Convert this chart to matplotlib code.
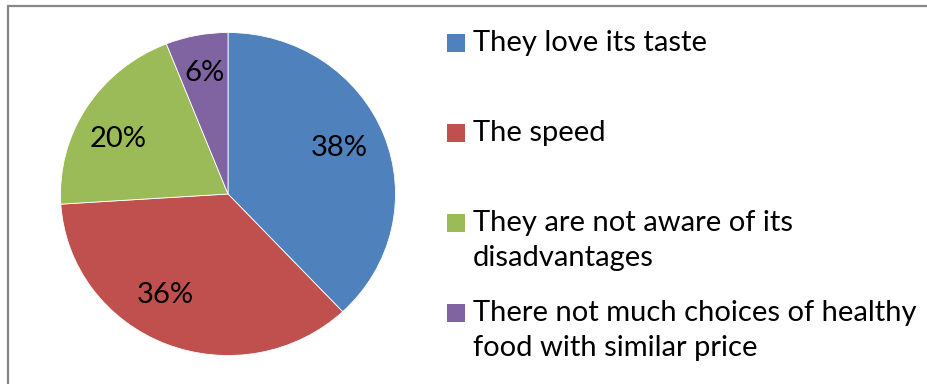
import matplotlib
matplotlib.use("Agg")
import matplotlib.pyplot as plt
from matplotlib.patches import Rectangle
import numpy as np

# Survey answers and their shares (%)
reasons = [
    "They love its taste",
    "The speed",
    "They are not aware of its\ndisadvantages",
    "There not much choices of healthy\nfood with similar price",
]
shares = [38, 36, 20, 6]
colors = ["#4F81BD", "#C0504D", "#9BBB59", "#8064A2"]

# Small angular nudges (degrees) and radial distance for the percentage labels
label_nudge = [1.5, -9.5, 5.0, 0.0]
label_radius = [0.72, 0.73, 0.74, 0.76]

FONT = "Lato"
W, H = 928, 384
fig = plt.figure(figsize=(W / 100, H / 100), dpi=100)
fig.patch.set_facecolor("white")

# Chart frame (right and bottom edges fall outside the canvas)
fig.add_artist(Rectangle((7.5 / W, -0.05), 1.2, 1 - 5.5 / H + 0.05,
                         transform=fig.transFigure, fill=False,
                         edgecolor="#878787", linewidth=1.6))

# Pie axes (plot area is slightly wider than tall)
cx, cy, rx, ry = 228, 194, 167.5, 161.5
ax = fig.add_axes([(cx - rx) / W, (H - cy - ry) / H, 2 * rx / W, 2 * ry / H])
wedges, _ = ax.pie(shares, colors=colors, startangle=90, counterclock=False,
                   radius=1.0, wedgeprops=dict(linewidth=0.6, edgecolor="white"))
ax.set_aspect("auto")
ax.set_xlim(-1, 1)
ax.set_ylim(-1, 1)
ax.axis("off")

total = sum(shares)
start = 90.0
for val, nudge, rad in zip(shares, label_nudge, label_radius):
    sweep = val / total * 360.0
    mid = np.deg2rad(start - sweep / 2 + nudge)
    ax.text(rad * np.cos(mid), rad * np.sin(mid), f"{val}%",
            ha="center", va="center", fontsize=21, family=FONT, color="black")
    start -= sweep

# Legend
box = 18
text_x = 473
row_centers = [43, 133, 223, 313]
for name, col, yc in zip(reasons, colors, row_centers):
    fig.add_artist(Rectangle((447 / W, (H - yc - box / 2) / H), box / W, box / H,
                             transform=fig.transFigure, facecolor=col,
                             edgecolor="none"))
    fig.text(text_x / W, (H - yc + 13) / H, name, ha="left", va="top",
             fontsize=21, family=FONT, color="black", linespacing=1.45)

fig.savefig("out.png", dpi=100, facecolor="white")
